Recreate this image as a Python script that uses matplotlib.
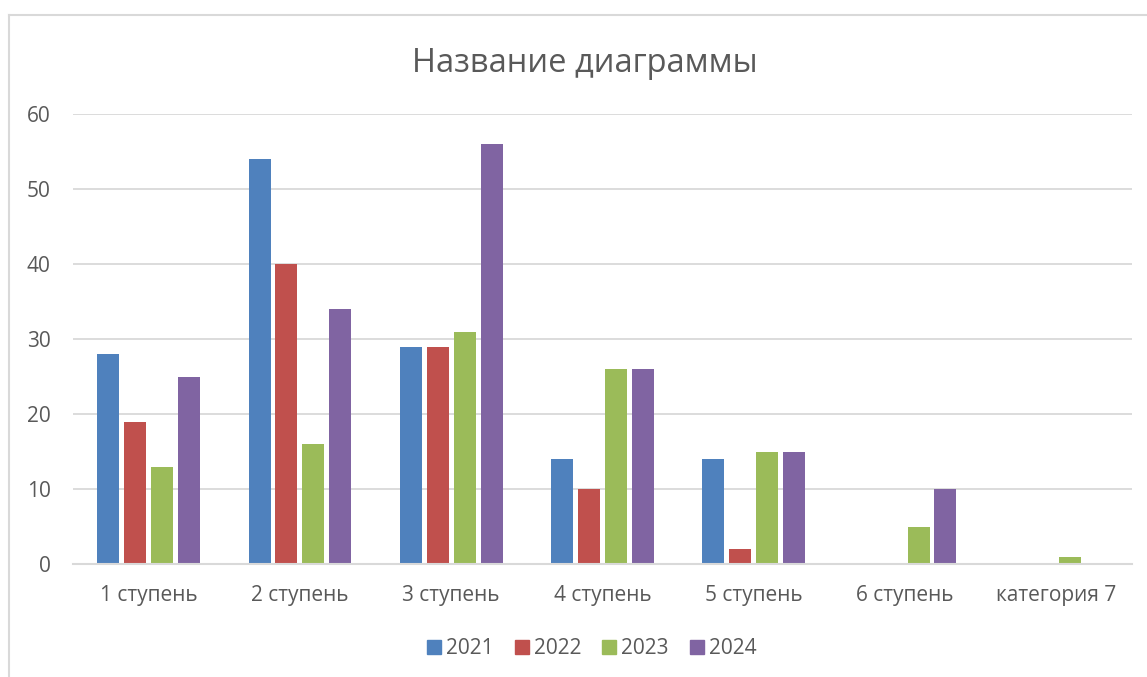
import matplotlib
matplotlib.use("Agg")
import matplotlib.pyplot as plt
from matplotlib.lines import Line2D
import numpy as np

categories = ["1 ступень", "2 ступень", "3 ступень", "4 ступень",
              "5 ступень", "6 ступень", "категория 7"]
years = ["2021", "2022", "2023", "2024"]
v2021 = [28, 54, 29, 14, 14, 0, 0]
v2022 = [19, 40, 29, 10, 2, 0, 0]
v2023 = [13, 16, 31, 26, 15, 5, 1]
v2024 = [25, 34, 56, 26, 15, 10, 0]
yticks = [0, 10, 20, 30, 40, 50, 60]

COLORS = ["#4F81BD", "#C0504D", "#9BBB59", "#8064A2"]
TEXT = "#595959"
GRID = "#D9D9D9"
FONT = "Open Sans"

W, H = 1147, 677
fig = plt.figure(figsize=(W / 100, H / 100), dpi=100)
ax = fig.add_axes([73 / W, 113 / H, (1132 - 73) / W, (564 - 114) / H])

x = np.arange(len(categories))
slot = 0.178
bw = 0.145
for i, (vals, c) in enumerate(zip([v2021, v2022, v2023, v2024], COLORS)):
    ax.bar(x + (i - 1.5) * slot, vals, width=bw, color=c, edgecolor="none",
           label=years[i], zorder=3)

ax.set_xlim(-0.5, len(categories) - 0.5)
ax.set_ylim(0, 60)
ax.set_yticks(yticks)
ax.set_xticks(x)
ax.set_xticklabels(categories)
ax.grid(axis="y", color=GRID, linewidth=1.3, zorder=0)
for s in ["top", "right", "left"]:
    ax.spines[s].set_visible(False)
ax.spines["bottom"].set_color(GRID)
ax.spines["bottom"].set_linewidth(1.5)
ax.spines["bottom"].set_zorder(4)
ax.tick_params(length=0, colors=TEXT, labelsize=15)
ax.tick_params(axis="y", pad=16)
ax.tick_params(axis="x", pad=15)
for lab in ax.get_xticklabels() + ax.get_yticklabels():
    lab.set_fontfamily(FONT)

fig.text(585 / W, 1 - 63 / H, "Название диаграммы", ha="center", va="center",
         fontsize=23.5, color=TEXT, fontfamily=FONT)

handles = [Line2D([], [], marker="s", linestyle="none", markersize=10,
                  markerfacecolor=c, markeredgecolor=c) for c in COLORS]
leg = fig.legend(handles, years, loc="center", bbox_to_anchor=(590 / W, 1 - 649 / H),
                 ncol=4, frameon=False, handletextpad=0.08, columnspacing=0.85,
                 handlelength=1.0, prop={"family": FONT, "size": 15})
for t in leg.get_texts():
    t.set_color(TEXT)

# chart area border (left and top edges visible)
fig.add_artist(Line2D([9 / W, 9 / W], [0, 1 - 15 / H], transform=fig.transFigure,
                      color=GRID, linewidth=1.5))
fig.add_artist(Line2D([9 / W, 1], [1 - 15 / H, 1 - 15 / H], transform=fig.transFigure,
                      color=GRID, linewidth=1.5))

fig.savefig("out.png", dpi=100, facecolor="white")
